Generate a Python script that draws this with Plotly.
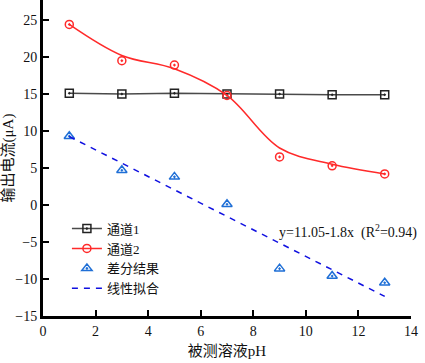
import plotly.graph_objects as go

ph = [1, 3, 5, 7, 9, 11, 13]
channel1 = [15.1, 15.0, 15.1, 15.0, 15.0, 14.9, 14.9]
channel2 = [24.4, 19.5, 18.9, 14.8, 6.5, 5.3, 4.2]
channel2_curve = [24.4, 20.2, 18.4, 14.8, 7.7, 5.5, 4.2]
diff = [9.3, 4.7, 3.8, 0.1, -8.6, -9.6, -10.5]
fit_x = [1, 13]
fit_y = [9.25, -12.35]

FONT = "Liberation Serif, Times New Roman, Noto Sans CJK SC, serif"

fig = go.Figure()

# 通道1
fig.add_trace(go.Scatter(
    x=ph, y=channel1, mode="lines+markers", name="通道1",
    line=dict(color="#4a4a4a", width=1.5),
    marker=dict(symbol="square-open-dot", size=8, color="#222222", line=dict(width=1.5)),
))
# 通道2 legend entry
fig.add_trace(go.Scatter(
    x=[None], y=[None], mode="lines+markers", name="通道2",
    line=dict(color="#ff2a2a", width=1.5),
    marker=dict(symbol="circle-open", size=8, color="#ff2a2a", line=dict(width=1.5)),
))
# 通道2 smooth curve
fig.add_trace(go.Scatter(
    x=ph, y=channel2_curve, mode="lines", showlegend=False,
    line=dict(color="#ff2a2a", width=1.5, shape="spline", smoothing=1.0),
))
# 通道2 points
fig.add_trace(go.Scatter(
    x=ph, y=channel2, mode="markers", showlegend=False,
    marker=dict(symbol="circle-open-dot", size=8, color="#ff2a2a", line=dict(width=1.5)),
))
# 差分结果
fig.add_trace(go.Scatter(
    x=ph, y=diff, mode="markers", name="差分结果",
    marker=dict(symbol="triangle-up-open-dot", size=9, color="#1f6fd6", line=dict(width=1.5)),
))
# 线性拟合
fig.add_trace(go.Scatter(
    x=fit_x, y=fit_y, mode="lines", name="线性拟合",
    line=dict(color="#1010e0", width=1.5, dash="6px,6px"),
))

fig.add_annotation(
    x=11.6, y=-3.6, xref="x", yref="y", showarrow=False,
    text="y=11.05-1.8x  (R<sup>2</sup>=0.94)",
    font=dict(family=FONT, size=14, color="#111111"),
)

fig.update_layout(
    width=425, height=363,
    margin=dict(l=43, r=14, t=0, b=47),
    paper_bgcolor="white", plot_bgcolor="white",
    font=dict(family=FONT, size=14, color="#111111"),
    legend=dict(
        x=0.065, y=0.324, xanchor="left", yanchor="top",
        bgcolor="rgba(0,0,0,0)", font=dict(family=FONT, size=13),
        tracegroupgap=0, itemwidth=30,
    ),
    xaxis=dict(
        range=[0, 14], tickvals=[0, 2, 4, 6, 8, 10, 12, 14], automargin=False,
        showgrid=False, zeroline=False, showline=True, linecolor="black", linewidth=3,
        ticks="inside", ticklen=6, tickwidth=2, tickcolor="black",
        title=dict(text="被测溶液pH", font=dict(family=FONT, size=15), standoff=8),
    ),
    yaxis=dict(
        range=[-15, 27.7], tickvals=[-15, -10, -5, 0, 5, 10, 15, 20, 25], automargin=False,
        showgrid=False, zeroline=False, showline=True, linecolor="black", linewidth=3,
        ticks="inside", ticklen=6, tickwidth=2, tickcolor="black",
        title=dict(text="输出电流(μA)", font=dict(family=FONT, size=15), standoff=6),
    ),
)

fig.write_html(
    "out.html",
    config={"displayModeBar": False},
    post_script="document.body.style.margin='0';document.body.style.overflow='hidden';",
)
